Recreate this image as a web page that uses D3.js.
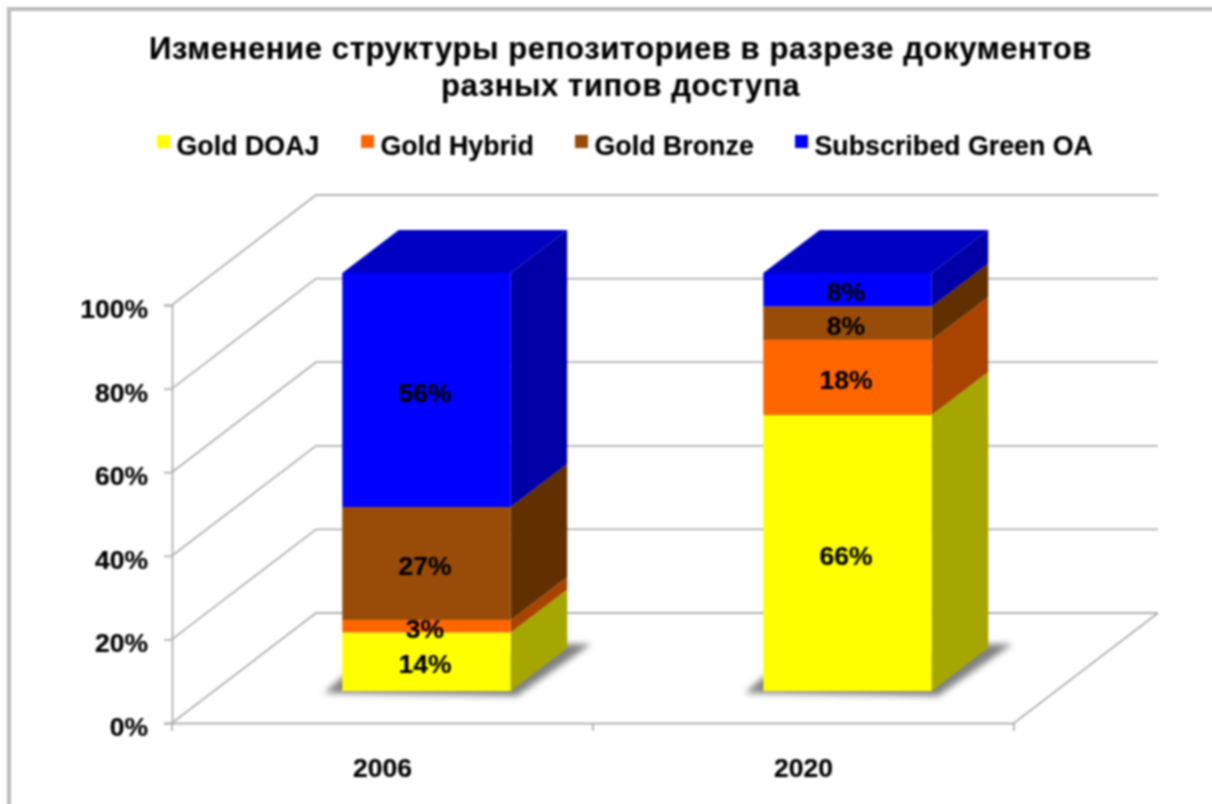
<!DOCTYPE html>
<html>
<head>
<meta charset="utf-8">
<script src="https://cdn.jsdelivr.net/npm/d3@7"></script>
<style>
  html, body { margin: 0; padding: 0; background: #fff; }
  text { font-family: "Liberation Sans", Arial, sans-serif; font-weight: bold; fill: #000; stroke: #000; stroke-width: 0.2px; }
</style>
</head>
<body>
<div id="chart"></div>
<script>
// data
var titleLines = ["Изменение структуры репозиториев в разрезе документов", "разных типов доступа"];
var years = ["2006", "2020"];
var seriesNames = ["Gold DOAJ", "Gold Hybrid", "Gold Bronze", "Subscribed Green OA"];
var goldDoaj = [14, 66];
var goldHybrid = [3, 18];
var goldBronze = [27, 8];
var greenOa = [56, 8];
var yTicks = [0, 20, 40, 60, 80, 100];
var frontColors = ["#ffff00", "#ff6600", "#994c08", "#0000ff"];
var sideColors = ["#a6a600", "#a84400", "#622f00", "#0000a6"];
var topColor = "#0000c4";

var svgWidth = 1212;
var svgHeight = 804;

// front plane of the 3d box
var margin = { top: 305, right: 198, bottom: 81, left: 172 };
var depth = { x: 144, y: 110 };     // back wall offset
var barDepth = { x: 56.5, y: 43 };  // side face of a bar
var barInset = { x: 44, y: 32 };    // how far the bars stand from the front edge

var x = d3.scaleBand().domain(years)
  .range([margin.left, svgWidth - margin.right]);
var y = d3.scaleLinear().domain([0, 100])
  .range([svgHeight - margin.bottom, margin.top]);
var barWidth = x.bandwidth() * 0.4;

var svg = d3.select("#chart").append("svg")
  .attr("width", svgWidth)
  .attr("height", svgHeight)
  .style("display", "block");

var defs = svg.append("defs");
defs.append("filter").attr("id", "soft")
  .attr("x", "-30%").attr("y", "-60%").attr("width", "160%").attr("height", "220%")
  .attr("color-interpolation-filters", "sRGB")
  .append("feGaussianBlur").attr("stdDeviation", 3);
defs.append("filter").attr("id", "scan")
  .attr("filterUnits", "userSpaceOnUse")
  .attr("x", 0).attr("y", 0)
  .attr("width", svgWidth).attr("height", svgHeight)
  .attr("color-interpolation-filters", "sRGB")
  .append("feGaussianBlur").attr("stdDeviation", 0.8);

var root = svg.append("g").attr("filter", "url(#scan)");

// outer frame, runs off the right and bottom
root.append("path")
  .attr("d", "M9," + (svgHeight + 5) + "V9H" + (svgWidth + 5))
  .attr("fill", "none").attr("stroke", "#bcbcbc").attr("stroke-width", 4);

root.selectAll(".title").data(titleLines).enter().append("text")
  .attr("class", "title")
  .attr("x", 620.5)
  .attr("y", function(d, i) { return 59 + i * 37; })
  .attr("text-anchor", "middle")
  .attr("font-size", 31)
  .attr("letter-spacing", 0.6)
  .text(function(d) { return d; });

// legend
var legendX = [157, 361, 575, 795];
var legend = root.selectAll(".legend").data(seriesNames).enter().append("g")
  .attr("class", "legend")
  .attr("transform", function(d, i) { return "translate(" + legendX[i] + ",135)"; });
legend.append("rect").attr("width", 13).attr("height", 13)
  .attr("fill", function(d, i) { return frontColors[i]; });
legend.append("text").attr("x", 19.5).attr("y", 20)
  .attr("font-size", 26.8)
  .text(function(d) { return d; });

var grid = "#b0b0b0";
var x0 = margin.left, x1 = svgWidth - margin.right;

// back wall gridlines and the slanted side wall lines
yTicks.forEach(function(t) {
  root.append("path")
    .attr("d", d3.line()([[x0, y(t)], [x0 + depth.x, y(t) - depth.y], [x1 + depth.x, y(t) - depth.y]]))
    .attr("fill", "none").attr("stroke", grid).attr("stroke-width", 1.8);
});
// floor right edge
root.append("path")
  .attr("d", d3.line()([[x1, y(0)], [x1 + depth.x, y(0) - depth.y]]))
  .attr("fill", "none").attr("stroke", grid).attr("stroke-width", 1.8);

// y axis
var yAxis = root.append("g").attr("transform", "translate(" + x0 + ",0)")
  .call(d3.axisLeft(y).tickValues(yTicks).tickSize(8).tickPadding(16)
    .tickFormat(function(d) { return d + "%"; }));
// x axis
var xAxis = root.append("g").attr("transform", "translate(0," + y(0) + ")")
  .call(d3.axisBottom(x).tickSize(0).tickPadding(35));
xAxis.selectAll(".tick").select("line").remove();
xAxis.selectAll(".edge").data(x.domain().concat("end")).enter().append("line")
  .attr("class", "edge")
  .attr("x1", function(d, i) { return x0 + i * x.step(); })
  .attr("x2", function(d, i) { return x0 + i * x.step(); })
  .attr("y1", 0).attr("y2", 8);
root.selectAll(".domain, .tick line, .edge")
  .attr("stroke", grid).attr("stroke-width", 1.8);
yAxis.selectAll("text").attr("font-size", 26.5).attr("dy", "0.47em");
xAxis.selectAll("text").attr("font-size", 26.5);

// stack up the series
var series = [goldDoaj, goldHybrid, goldBronze, greenOa];
var bars = years.map(function(year, c) {
  var sum = 0;
  return series.map(function(s, k) {
    var seg = { year: year, k: k, v: s[c], from: sum, to: sum + s[c] };
    sum += s[c];
    return seg;
  });
});

function px(year) { return x(year) + (x.bandwidth() - barWidth) / 2 + barInset.x; }
function py(v) { return y(v) - barInset.y; }
function poly(points) { return d3.line()(points) + "Z"; }

var barGroup = root.selectAll(".bar").data(bars).enter().append("g").attr("class", "bar");

// shadow on the floor
barGroup.append("path")
  .attr("filter", "url(#soft)")
  .attr("fill", "#808080")
  .attr("d", function(d) {
    var a = px(d[0].year), b = a + barWidth, f = py(0);
    return poly([[a - 18, f + 2], [b + 6, f + 5], [b + barDepth.x + 24, f - barDepth.y - 4], [b + barDepth.x, f - barDepth.y - 4], [a, f - 14]]);
  });

barGroup.each(function(d) {
  var g = d3.select(this);
  var a = px(d[0].year), b = a + barWidth;
  g.selectAll(".side").data(d).enter().append("path")
    .attr("class", "side")
    .attr("fill", function(s) { return sideColors[s.k]; })
    .attr("d", function(s) {
      return poly([[b, py(s.from)], [b + barDepth.x, py(s.from) - barDepth.y], [b + barDepth.x, py(s.to) - barDepth.y], [b, py(s.to)]]);
    });
  g.selectAll(".front").data(d).enter().append("rect")
    .attr("class", "front")
    .attr("x", a).attr("width", barWidth)
    .attr("y", function(s) { return py(s.to); })
    .attr("height", function(s) { return py(s.from) - py(s.to); })
    .attr("fill", function(s) { return frontColors[s.k]; });
  // top face
  g.append("path").attr("fill", topColor)
    .attr("d", poly([[a, py(100)], [a + barDepth.x, py(100) - barDepth.y], [b + barDepth.x, py(100) - barDepth.y], [b, py(100)]]));
  g.selectAll(".label").data(d).enter().append("text")
    .attr("class", "label")
    .attr("x", (a + b) / 2 - 1.5)
    .attr("y", function(s) { return py((s.from + s.to) / 2) + 11.5; })
    .attr("text-anchor", "middle")
    .attr("font-size", 26.5)
    .text(function(s) { return s.v + "%"; });
});
</script>
</body>
</html>
